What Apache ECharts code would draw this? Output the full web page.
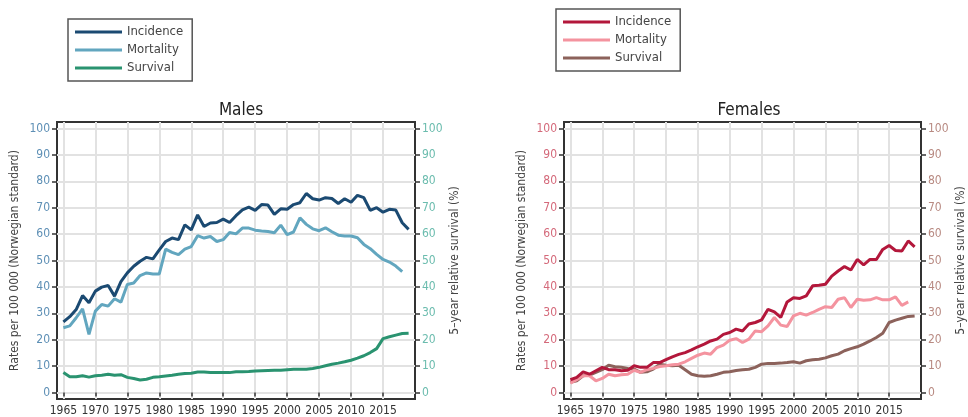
<!DOCTYPE html>
<html>
<head>
<meta charset="utf-8">
<script src="https://cdn.jsdelivr.net/npm/echarts@6/dist/echarts.min.js"></script>
<style>
  html, body { margin: 0; padding: 0; background: #fff; }
  #chart { width: 968px; height: 417px; }
</style>
</head>
<body>
<div id="chart"></div>
<script>
// Years of diagnosis
const years = [];
for (let y = 1965; y <= 2019; y++) years.push(y);

// Tick positions shown on the axes
const xTicks = [1965, 1970, 1975, 1980, 1985, 1990, 1995, 2000, 2005, 2010, 2015];
const yTicks = [0, 10, 20, 30, 40, 50, 60, 70, 80, 90, 100];

// Males: rates per 100 000 and 5-year relative survival (%)
const maleIncidence = [26.7, 28.7, 31.4, 36.7, 34.0, 38.4, 39.9, 40.5, 36.5, 42.0,
  45.3, 47.8, 49.7, 51.2, 50.6, 54.0, 57.2, 58.5, 57.9, 63.5,
  61.6, 67.3, 62.9, 64.2, 64.4, 65.7, 64.4, 67.0, 69.2, 70.2,
  69.0, 71.2, 71.0, 67.5, 69.6, 69.4, 71.2, 71.9, 75.4, 73.4,
  72.9, 73.8, 73.5, 71.6, 73.4, 72.1, 74.7, 73.8, 69.0, 70.0,
  68.3, 69.4, 69.1, 64.3, 61.8];
const maleMortality = [24.5, 25.2, 28.3, 31.7, 22.0, 30.8, 33.3, 32.7, 35.5, 34.2,
  40.9, 41.5, 44.3, 45.3, 44.9, 44.9, 54.3, 53.1, 52.2, 54.3,
  55.3, 59.4, 58.5, 59.1, 57.2, 57.9, 60.6, 60.1, 62.3, 62.3,
  61.5, 61.2, 61.0, 60.5, 63.4, 59.8, 60.8, 66.2, 63.7, 62.0,
  61.3, 62.4, 60.9, 59.6, 59.3, 59.3, 58.6, 56.1, 54.5, 52.3,
  50.4, 49.4, 47.9, 45.8, null];
const maleSurvival = [7.5, 5.9, 5.9, 6.3, 5.8, 6.3, 6.5, 6.9, 6.5, 6.7,
  5.7, 5.3, 4.7, 5.0, 5.7, 5.9, 6.2, 6.5, 6.9, 7.2,
  7.3, 7.7, 7.7, 7.5, 7.5, 7.5, 7.5, 7.8, 7.8, 7.9,
  8.1, 8.2, 8.3, 8.4, 8.4, 8.6, 8.8, 8.8, 8.8, 9.1,
  9.5, 10.1, 10.7, 11.1, 11.6, 12.2, 13.0, 13.9, 15.1, 16.6,
  20.4, 21.1, 21.7, 22.3, 22.4];

// Females: rates per 100 000 and 5-year relative survival (%)
const femaleIncidence = [4.8, 5.7, 7.8, 6.9, 8.2, 9.5, 8.6, 8.6, 8.2, 8.4,
  10.1, 9.5, 9.5, 11.3, 11.3, 12.4, 13.5, 14.4, 15.1, 16.1,
  17.3, 18.3, 19.5, 20.2, 22.0, 22.7, 24.0, 23.3, 25.9, 26.5,
  27.5, 31.5, 30.5, 28.4, 34.3, 35.9, 35.6, 36.6, 40.4, 40.6,
  41.0, 44.1, 46.0, 47.7, 46.4, 50.4, 48.3, 50.4, 50.4, 54.2,
  55.7, 53.8, 53.6, 57.4, 55.2];
const femaleMortality = [3.5, 4.8, 6.3, 6.3, 4.4, 5.3, 6.9, 6.3, 6.7, 6.9,
  8.4, 7.6, 8.6, 9.1, 9.8, 10.1, 10.5, 10.7, 11.6, 12.9,
  14.1, 14.9, 14.5, 17.0, 17.9, 19.8, 20.4, 18.9, 20.2, 23.3,
  23.0, 25.2, 28.4, 25.5, 25.0, 29.0, 30.0, 29.3, 30.3, 31.5,
  32.5, 32.2, 35.3, 35.9, 32.2, 35.3, 34.9, 35.1, 35.9, 35.1,
  35.1, 36.2, 33.0, 34.3, null];
const femaleSurvival = [3.8, 4.4, 6.3, 6.6, 7.6, 8.6, 10.3, 9.7, 9.5, 9.1,
  8.8, 7.6, 7.8, 8.8, 10.7, 10.3, 10.1, 10.3, 8.6, 6.9,
  6.3, 6.1, 6.3, 6.9, 7.6, 7.8, 8.3, 8.6, 8.8, 9.5,
  10.7, 11.0, 11.0, 11.1, 11.3, 11.6, 11.1, 12.0, 12.4, 12.6,
  13.1, 13.9, 14.5, 15.8, 16.6, 17.3, 18.3, 19.5, 20.8, 22.4,
  26.5, 27.4, 28.1, 28.8, 29.0];

const seriesNames = ['Incidence', 'Mortality', 'Survival'];
const maleColors = ['#1b4a72', '#62a6bf', '#2a9370'];
const femaleColors = ['#b3173b', '#f4939f', '#8c625b'];

const FONT = "'DejaVu Sans Condensed', 'Liberation Sans Narrow', 'Open Sans', sans-serif";
const pair = arr => years.map((y, i) => [y, arr[i]]);

function xAxis(gridIndex) {
  return {
    type: 'value', gridIndex, min: 1964, max: 2020,
    axisLine: { show: false },
    axisTick: { show: true, length: 4, customValues: xTicks, lineStyle: { color: '#333', width: 1.5 } },
    axisLabel: { customValues: xTicks, formatter: v => String(v), color: '#333',
      fontFamily: FONT, fontSize: 12, margin: 6 },
    splitLine: { show: true, lineStyle: { color: '#e2e2e2', width: 2 } }
  };
}
function yAxis(gridIndex, position, labelColor, name, grid) {
  return {
    type: 'value', gridIndex, position, min: -2.5, max: 102.5,
    name, nameLocation: 'middle', nameGap: position === 'left' ? 36 : 34,
    nameTextStyle: { color: '#444', fontFamily: FONT, fontSize: 12 },
    axisLine: { show: false },
    axisTick: { show: true, length: 5, customValues: yTicks, lineStyle: { color: '#333', width: 1.5 } },
    axisLabel: { customValues: yTicks, color: labelColor, fontFamily: FONT, fontSize: 12, margin: 7 },
    splitLine: { show: grid, lineStyle: { color: '#e2e2e2', width: 2 } }
  };
}
function lines(data, colors, xIdx, yLeft, yRight) {
  return data.map((arr, i) => ({
    type: 'line', name: seriesNames[i],
    xAxisIndex: xIdx, yAxisIndex: i === 2 ? yRight : yLeft,
    data: pair(arr), showSymbol: false, connectNulls: false,
    lineStyle: { color: colors[i], width: 3 }, itemStyle: { color: colors[i] },
    z: 3 - i
  }));
}
function legend(left, top, colors) {
  return {
    orient: 'vertical', left, top, selectedMode: false,
    icon: 'rect', itemWidth: 47, itemHeight: 3, itemGap: 4,
    padding: [6, 9, 6, 7],
    borderColor: '#555', borderWidth: 1.5,
    textStyle: { color: '#444', fontFamily: FONT, fontSize: 13, lineHeight: 14 },
    data: seriesNames.map((n, i) => ({ name: n, itemStyle: { color: colors[i] } }))
  };
}

const chart = echarts.init(document.getElementById('chart'), null, { renderer: 'canvas' });
chart.setOption({
  animation: false,
  title: [
    { text: 'Males', left: 236, top: 97, textAlign: 'center',
      textStyle: { fontFamily: FONT, fontSize: 17, fontWeight: 'normal', color: '#222' } },
    { text: 'Females', left: 744, top: 97, textAlign: 'center',
      textStyle: { fontFamily: FONT, fontSize: 17, fontWeight: 'normal', color: '#222' } }
  ],
  legend: [legend(68, 19, maleColors), legend(556, 9, femaleColors)],
  grid: [
    { left: 57, right: 553, top: 122, bottom: 17, show: true, borderColor: '#333', borderWidth: 2, backgroundColor: 'transparent' },
    { left: 564, right: 44, top: 122, bottom: 17, show: true, borderColor: '#333', borderWidth: 2, backgroundColor: 'transparent' }
  ],
  xAxis: [xAxis(0), xAxis(1)],
  yAxis: [
    yAxis(0, 'left', '#5d8fb5', 'Rates per 100 000 (Norwegian standard)', true),
    yAxis(0, 'right', '#6bbcae', '5–year relative survival (%)', false),
    yAxis(1, 'left', '#d4697a', 'Rates per 100 000 (Norwegian standard)', true),
    yAxis(1, 'right', '#b88a82', '5–year relative survival (%)', false)
  ],
  series: [
    ...lines([maleIncidence, maleMortality, maleSurvival], maleColors, 0, 0, 1),
    ...lines([femaleIncidence, femaleMortality, femaleSurvival], femaleColors, 1, 2, 3)
  ]
});
</script>
</body>
</html>
